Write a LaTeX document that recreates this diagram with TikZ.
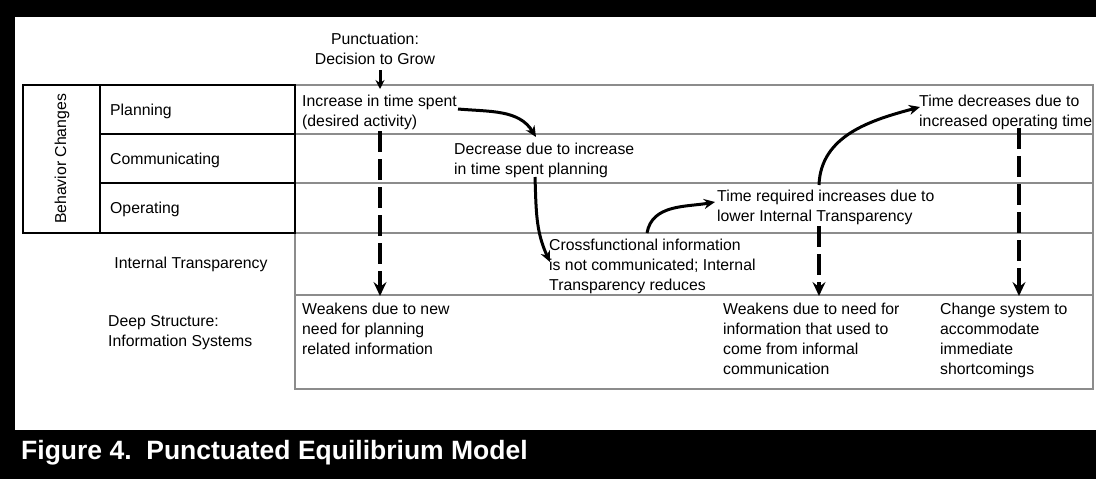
\documentclass[tikz,border=0pt]{standalone}
\usepackage{fontspec}
\setmainfont{Liberation Sans}
\usetikzlibrary{arrows.meta}
\newcommand{\bodyfont}{\fontsize{15.8}{20}\selectfont}
\begin{document}
\begin{tikzpicture}[x=1pt,y=-1pt,
  txt/.style={anchor=north west, inner sep=0pt, align=left, font=\bodyfont},
  lbl/.style={anchor=base west, inner sep=0pt, font=\bodyfont},
  blk/.style={draw=black, line width=1.3pt},
  gry/.style={draw=black!45, line width=1.5pt},
  solidarrow/.style={line width=3pt, -{Stealth[length=11pt,width=10pt,inset=3.5pt]}},
  dasharrow/.style={line width=4pt, dash pattern=on 21pt off 7pt, -{Stealth[length=14pt,width=13pt,inset=5pt]}}
]
\useasboundingbox (0,0) rectangle (1096,479);
% frame
\fill[black] (0,0) rectangle (1096,17);
\fill[black] (0,0) rectangle (15,479);
\fill[black] (0,430) rectangle (1096,479);
\node[anchor=base west, inner sep=0pt, text=white, font=\fontsize{26.5}{30}\selectfont\bfseries] (cap) at (21,459) {Figure 4.\ \ Punctuated Equilibrium Model};

% right grid (gray)
\draw[gry] (295,85) rectangle (1093,233);
\draw[gry] (295,134) -- (1093,134);
\draw[gry] (295,183) -- (1093,183);
\draw[gry] (295,233) rectangle (1093,295);
\draw[gry] (295,295) rectangle (1093,389);

% left table (black)
\draw[blk] (23,85) rectangle (100,233);
\draw[blk] (100,85) rectangle (295,233);
\draw[blk] (100,134) -- (295,134);
\draw[blk] (100,183) -- (295,183);

% left labels
\node[rotate=90, inner sep=0pt, font=\bodyfont] (bc) at (62,159) {Behavior Changes};
\node[lbl] (plan) at (110,115) {Planning};
\node[lbl] (comm) at (110,164) {Communicating};
\node[lbl] (oper) at (110,213) {Operating};
\node[anchor=base, inner sep=0pt, font=\bodyfont] (it) at (191,268) {Internal Transparency};
\node[txt] (ds) at (108,315.7) {Deep Structure:\\Information Systems};

% texts
\node[anchor=north, inner sep=0pt, align=center, font=\bodyfont] (punct) at (375,32.7) {Punctuation:\\Decision to Grow};
\node[txt] (inc) at (302,95.2) {Increase in time spent\\(desired activity)};
\node[txt] (dec) at (454,142.7) {Decrease due to increase\\in time spent planning};
\node[txt] (cross) at (549,238.7) {Crossfunctional information\\is not communicated; Internal\\Transparency reduces};
\node[txt] (treq) at (717,189.7) {Time required increases due to\\lower Internal Transparency};
\node[txt] (tdec) at (919,94.7) {Time decreases due to\\increased operating time};
\node[txt] (w1) at (302,302.7) {Weakens due to new\\need for planning\\related information};
\node[txt] (w2) at (723,302.7) {Weakens due to need for\\information that used to\\come from informal\\communication};
\node[txt] (chg) at (940,302.7) {Change system to\\accommodate\\immediate\\shortcomings};

% connector end points
\coordinate (p1) at (380,70);
\coordinate (p2) at (380,89);
\coordinate (a1s) at (458,109);
\coordinate (a1e) at (536,137);
\coordinate (a2s) at (535,177);
\coordinate (a2e) at (550,262);
\coordinate (a3s) at (647,233);
\coordinate (a3e) at (715,202);
\coordinate (a4s) at (819,185);
\coordinate (a4e) at (920,107);
\coordinate (d1s) at (380,131);
\coordinate (d1e) at (380,296);
\coordinate (d2s) at (819,226);
\coordinate (d2e) at (819,296);
\coordinate (d3s) at (1019,128);
\coordinate (d3e) at (1019,296);

% arrows
\draw[line width=3pt, -{Stealth[length=9pt,width=9pt,inset=3pt]}] (p1) -- (p2);
\draw[solidarrow] (a1s) to[out=-5, in=122] (a1e);
\draw[solidarrow] (a2s) to[out=-88, in=115] (a2e);
\draw[solidarrow] (a3s) to[out=80, in=190] (a3e);
\draw[solidarrow] (a4s) to[out=88, in=195] (a4e);
\draw[dasharrow] (d1s) -- (d1e);
\draw[dasharrow] (d2s) -- (d2e);
\draw[dasharrow] (d3s) -- (d3e);
\end{tikzpicture}
\end{document}
